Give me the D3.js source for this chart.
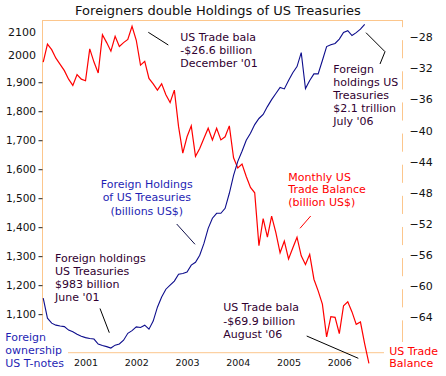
<!DOCTYPE html>
<html>
<head>
<meta charset="utf-8">
<script src="https://cdn.jsdelivr.net/npm/d3@7"></script>
<style>
body { margin: 0; background: #fff; }
svg { display: block; font-family: "DejaVu Sans", Verdana, sans-serif; }
</style>
</head>
<body>
<svg></svg>
<script>
// месяцы считаем от января 2001 (0 = Jan '01), ряды начинаются с марта 2000
let firstMonth = -10;

// Monthly US Trade Balance, billion US$ (Mar 2000 .. Aug 2006)
let tradeBalance = [
    -31.2, -28.9, -29.6, -30.7, -31.5, -32.3, -33.4, -34.2, -32.8, -33.4,
    -33.6, -29.5, -31.2, -32.6, -27.7, -28.7, -29.8, -27.9, -29.2, -28.7,
    -28.3, -26.6, -28.4, -31.6, -31.1, -33.3, -34.0, -34.8, -34.0, -35.4,
    -36.4, -34.8, -39.5, -42.9, -40.8, -39.4, -43.3, -42.3, -41.0, -39.7,
    -41.2, -39.7, -41.2, -40.8, -39.4, -43.5, -44.8, -44.3, -45.9, -47.3,
    -48.0, -54.8, -51.3, -53.7, -51.0, -53.1, -55.7, -54.2, -56.5, -55.1,
    -53.7, -56.1, -57.2, -55.9, -59.1, -60.6, -62.3, -66.5, -63.9, -64.0,
    -66.1, -62.5, -62.0, -63.3, -64.9, -64.6, -67.4, -69.9
];

// Foreign holdings of US Treasuries, billions US$ (Mar 2000 .. Jul 2006)
let treasuries = [
    1155, 1086, 1069, 1062, 1059, 1057, 1045, 1039, 1031, 1024,
    1019, 1016, 1014, 997, 992, 988, 983, 993, 997, 1010,
    1034, 1043, 1056, 1054, 1062, 1048, 1076, 1124, 1159, 1186,
    1200, 1214, 1238, 1240, 1245, 1269, 1279, 1303, 1344, 1396,
    1431, 1448, 1448, 1465, 1517, 1579, 1627, 1662, 1700, 1724,
    1754, 1775, 1789, 1816, 1840, 1861, 1882, 1877, 1906, 1933,
    1954, 2002, 1878, 1906, 1929, 1929, 1975, 2023, 2029, 2034,
    2049, 2072, 2078, 2061, 2071, 2083, 2100
];

let leftTicks = [1100, 1200, 1300, 1400, 1500, 1600, 1700, 1800, 1900];
let rightTicks = [-28, -32, -36, -40, -44, -48, -52, -56, -60, -64];
let years = [2001, 2002, 2003, 2004, 2005, 2006];

let width = 446;
let height = 376;

let svg = d3.select("svg")
    .attr("width", width)
    .attr("height", height);

let plotL = 42.5, plotR = 402.5, plotT = 20.5, plotB = 352.7;

let orange = "#fcc68c";
let red = "#ff0000";
let navy = "#0d0d8c";
let blueText = "#1f1fb4";
let dark = "#300030";

let scaleX = d3.scaleLinear()
    .domain([-10.17, 74.94])
    .range([plotL, plotR]);

let scaleYL = d3.scaleLinear()
    .domain([967, 2113])
    .range([plotB, plotT]);

let scaleYR = d3.scaleLinear()
    .domain([-68.54, -25.86])
    .range([plotB, plotT]);

// рамка области построения
svg.append("rect")
    .attr("x", plotL).attr("y", plotT)
    .attr("width", plotR - plotL).attr("height", plotB - plotT)
    .attr("fill", "none")
    .attr("stroke", orange)
    .attr("stroke-width", 1);

// левая ось
let axisL = d3.axisLeft(scaleYL)
    .tickValues(leftTicks)
    .tickSize(4)
    .tickPadding(2.5)
    .tickFormat(d3.format(","));
let gL = svg.append("g")
    .attr("transform", `translate(${plotL}, 0)`)
    .call(axisL);
gL.select(".domain").remove();
gL.selectAll("line").attr("stroke", "#222");
gL.selectAll("text").attr("fill", "#111").style("font-size", "10.5px")
    .style("font-family", "DejaVu Sans, Verdana, sans-serif");

// правая ось (белые подложки закрывают рамку)
let gR = svg.append("g")
    .attr("transform", `translate(${plotR}, 0)`);
gR.selectAll("rect")
    .data(rightTicks)
    .enter().append("rect")
    .attr("x", -3)
    .attr("y", d => scaleYR(d) - 10)
    .attr("width", 30)
    .attr("height", 13)
    .attr("fill", "#fff");
let axisR = d3.axisRight(scaleYR)
    .tickValues(rightTicks)
    .tickSize(0)
    .tickPadding(7);
gR.call(axisR);
gR.select(".domain").remove();
gR.selectAll("text").attr("fill", "#111").style("font-size", "11px")
    .style("font-family", "DejaVu Sans, Verdana, sans-serif");

// нижняя ось
let axisX = d3.axisBottom(scaleX)
    .tickValues(years.map(y => (y - 2001) * 12))
    .tickSize(0)
    .tickPadding(7)
    .tickFormat(d => 2001 + d / 12);
let gX = svg.append("g")
    .attr("transform", `translate(0, ${plotB})`)
    .call(axisX);
gX.select(".domain").remove();
gX.selectAll("text").attr("fill", "#111").style("font-size", "9.5px")
    .style("font-family", "DejaVu Sans, Verdana, sans-serif");

// линии
let arrTrade = tradeBalance.map((v, i) => ({'m': firstMonth + i, 'v': v}));
let arrHold = treasuries.map((v, i) => ({'m': firstMonth + i, 'v': v}));

let lineR = d3.line()
    .x(d => scaleX(d.m))
    .y(d => scaleYR(d.v));
let lineL = d3.line()
    .x(d => scaleX(d.m))
    .y(d => scaleYL(d.v));

svg.append("path")
    .datum(arrTrade)
    .attr("d", lineR)
    .attr("fill", "none")
    .attr("stroke", red)
    .attr("stroke-width", 1.2);

svg.append("path")
    .datum(arrHold)
    .attr("d", lineL)
    .attr("fill", "none")
    .attr("stroke", navy)
    .attr("stroke-width", 1.1);

// заголовок
svg.append("text")
    .attr("x", 218).attr("y", 15)
    .attr("text-anchor", "middle")
    .style("font-size", "13px")
    .attr("fill", "#111")
    .text("Foreigners double Holdings of US Treasuries");

// подписи
function label(lines, x, y, lh, color, anchor, bg) {
    let g = svg.append("g");
    if (bg) {
        g.append("rect")
            .attr("x", bg[0]).attr("y", bg[1])
            .attr("width", bg[2]).attr("height", bg[3])
            .attr("fill", "#fff");
    }
    lines.forEach((t, i) => {
        g.append("text")
            .attr("x", x).attr("y", y + i * lh)
            .attr("text-anchor", anchor || "start")
            .attr("fill", color)
            .style("font-size", "11px")
            .text(t);
    });
}

function pointer(pts, color) {
    svg.append("path")
        .attr("d", d3.line()(pts))
        .attr("fill", "none")
        .attr("stroke", color)
        .attr("stroke-width", 1);
}

label(["2100"], 36, 36.3, 0, "#111", "end");
label(["2000"], 36, 59, 0, "#111", "end");

label(["US Trade bala", "-$26.6 billion", "December '01"], 180.3, 41, 13, dark);
pointer([[148.3, 32.3], [168.3, 45]], "#000");

label(["Foreign", "holdings US", "Treasuries", "$2.1 trillion", "July '06"], 333.3, 73.3, 12.85, dark);
pointer([[366, 32.7], [385, 51.7], [380, 64]], "#000");

label(["Foreign Holdings", "of US Treasuries", "(billions US$)"], 146.8, 188, 13.3, blueText, "middle");
pointer([[176.7, 224], [195, 244.3]], "#10104a");

label(["Monthly US", "Trade Balance", "(billion US$)"], 288.3, 180.7, 12.5, red);
pointer([[300, 228.3], [310.7, 216]], red);

label(["Foreign holdings", "US Treasuries", "$983 billion", "June '01"], 55, 262.3, 12.8, dark);
pointer([[100, 308.5], [109.3, 332.7]], "#000");

label(["US Trade bala", "-$69.9 billion", "August '06"], 223.3, 311.3, 13.5, dark);
pointer([[306.7, 336], [358.3, 358.3]], "#000");

label(["Foreign", "ownership", "US T-notes"], 5.3, 340.7, 13.3, blueText, "start", [0, 330, 68, 46]);
label(["US Trade", "Balance"], 389.3, 355, 12, red, "start", [384, 342, 62, 34]);
</script>
</body>
</html>
